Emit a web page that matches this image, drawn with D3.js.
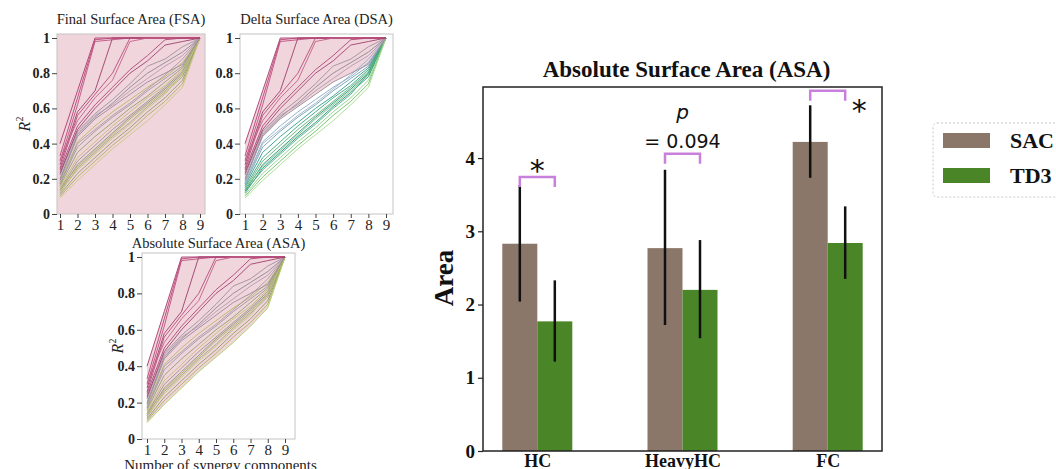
<!DOCTYPE html>
<html>
<head>
<meta charset="utf-8">
<script src="https://cdn.jsdelivr.net/npm/d3@7"></script>
<style>
  body { margin: 0; background: #fff; }
  svg { display: block; font-family: "Liberation Serif", "Times New Roman", serif; }
</style>
</head>
<body>
<div id="chart"></div>
<script>
// ---- data: R^2 vs number of synergy components ----
const steps = [1, 2, 3, 4, 5, 6, 7, 8, 9];
const yTickValues = [0, 0.2, 0.4, 0.6, 0.8, 1];

// lines that saturate early (magenta)
const topLines = [
  [0.40, 0.70, 1.00, 1.00, 1.00, 1.00, 1.00, 1.00, 1.00],
  [0.33, 0.66, 0.99, 1.00, 1.00, 1.00, 1.00, 1.00, 1.00],
  [0.30, 0.62, 0.98, 0.99, 1.00, 1.00, 1.00, 1.00, 1.00],
  [0.28, 0.58, 0.70, 1.00, 1.00, 1.00, 1.00, 1.00, 1.00],
  [0.26, 0.56, 0.68, 0.80, 1.00, 1.00, 1.00, 1.00, 1.00],
  [0.31, 0.53, 0.66, 0.76, 0.98, 1.00, 1.00, 1.00, 1.00],
  [0.25, 0.50, 0.62, 0.72, 0.82, 0.90, 0.99, 1.00, 1.00],
  [0.23, 0.48, 0.60, 0.70, 0.80, 0.87, 0.96, 0.98, 1.00]
];
// gray / mauve lines
const midLines = [
  [0.22, 0.47, 0.57, 0.65, 0.74, 0.84, 0.88, 0.95, 1.00],
  [0.20, 0.45, 0.55, 0.63, 0.72, 0.80, 0.86, 0.92, 1.00],
  [0.24, 0.46, 0.56, 0.62, 0.70, 0.77, 0.84, 0.90, 1.00],
  [0.19, 0.44, 0.54, 0.61, 0.68, 0.75, 0.80, 0.85, 1.00]
];
// the lower bundle
const lowLines = [
  [0.18, 0.41, 0.50, 0.58, 0.65, 0.72, 0.78, 0.86, 1.00],
  [0.17, 0.38, 0.47, 0.55, 0.62, 0.70, 0.77, 0.84, 1.00],
  [0.16, 0.35, 0.44, 0.52, 0.60, 0.67, 0.75, 0.83, 1.00],
  [0.15, 0.32, 0.41, 0.50, 0.58, 0.66, 0.73, 0.82, 1.00],
  [0.14, 0.30, 0.39, 0.48, 0.56, 0.64, 0.72, 0.81, 1.00],
  [0.13, 0.28, 0.37, 0.46, 0.55, 0.63, 0.71, 0.80, 1.00],
  [0.14, 0.27, 0.36, 0.45, 0.54, 0.62, 0.70, 0.79, 1.00],
  [0.12, 0.26, 0.35, 0.44, 0.52, 0.61, 0.69, 0.78, 1.00],
  [0.13, 0.25, 0.34, 0.43, 0.51, 0.60, 0.68, 0.80, 1.00],
  [0.11, 0.23, 0.32, 0.41, 0.49, 0.58, 0.66, 0.76, 1.00],
  [0.10, 0.21, 0.30, 0.39, 0.47, 0.56, 0.64, 0.74, 1.00],
  [0.09, 0.19, 0.28, 0.37, 0.45, 0.53, 0.62, 0.72, 1.00],
  [0.17, 0.40, 0.48, 0.56, 0.63, 0.71, 0.79, 0.88, 1.00]
];

// ---- data: bar chart ----
const categories = ["HC", "HeavyHC", "FC"];
const algos = ["SAC", "TD3"];
const sacMean = [2.83, 2.77, 4.22];
const sacLow  = [2.04, 1.72, 3.73];
const sacHigh = [3.63, 3.84, 4.72];
const td3Mean = [1.77, 2.20, 2.84];
const td3Low  = [1.22, 1.54, 2.35];
const td3High = [2.33, 2.88, 3.34];
const barTicks = [0, 1, 2, 3, 4];
const sigLevel = [3.74, 4.06, 4.92];
const sigText = ["*", "= 0.094", "*"];

// colours
const topColors = ["#a83a68", "#b8447a", "#c0507f", "#a03d6a", "#b54b7a", "#c46088", "#b04575", "#9e4370"];
const midColors = ["#a0909c", "#8c8890", "#b49ab0", "#9a8c96"];
const lowColorsFSA = ["#b9b760", "#9a9a9a", "#8fa070", "#c2bf6e", "#a09090", "#7f9a80", "#b5b05a", "#9fa58a", "#c6c47a", "#8c9c6a", "#b0ad5e", "#c8c880", "#a898a8"];
const lowColorsDSA = ["#8aa8c8", "#6fa0b0", "#2f9a88", "#3aa37a", "#58b070", "#23897a", "#7cc87a", "#1f8f80", "#4fae8a", "#8fd080", "#69bf6c", "#a6dc8a", "#9ab0c8"];
const lowColorsASA = ["#b9b760", "#9a9a9a", "#8fa070", "#c2bf6e", "#a09090", "#7f9a80", "#b5b05a", "#9fa58a", "#c6c47a", "#8c9c6a", "#b0ad5e", "#a8d060", "#a898a8"];
const algoColors = {SAC: "#8b766a", TD3: "#4a8628"};
const sigColor = "#c97fdc";
const pinkFill = "#f0d5dc";

const width = 1056, height = 469;
const svg = d3.select("#chart").append("svg")
  .attr("width", width).attr("height", height)
  .attr("viewBox", [0, 0, width, height]);

// ---- small line panels ----
const panels = [
  {title: "Final Surface Area (FSA)", box: [57, 34, 205, 214], xr: [60, 200], titleY: 24, fill: "full", low: lowColorsFSA, ylabel: true, labelX: 30},
  {title: "Delta Surface Area (DSA)", box: [240, 34, 393, 214], xr: [245, 386], titleY: 24, fill: "upper", low: lowColorsDSA, ylabel: false},
  {title: "Absolute Surface Area (ASA)", box: [142, 253, 295, 439], xr: [147, 285], titleY: 248, fill: "envelope", low: lowColorsASA, ylabel: true, labelX: 123, xlabel: "Number of synergy components"}
];

panels.forEach(p => {
  const [bx0, by0, bx1, by1] = p.box;
  const x = d3.scaleLinear().domain([1, 9]).range(p.xr);
  const y = d3.scaleLinear().domain([0, 1]).range([by1, by0 + 4]);
  const g = svg.append("g");
  const all = topLines.concat(midLines, lowLines);

  // shaded region
  if (p.fill === "full") {
    g.append("rect")
      .attr("x", bx0).attr("y", by0).attr("width", bx1 - bx0).attr("height", by1 - by0)
      .attr("fill", pinkFill);
  } else {
    const lowerSet = p.fill === "upper" ? topLines.concat(midLines) : all;
    const band = steps.map((s, i) => ({
      s: s,
      hi: d3.max(all, l => l[i]),
      lo: d3.min(lowerSet, l => l[i])
    }));
    g.append("path")
      .datum(band)
      .attr("d", d3.area().x(d => x(d.s)).y0(d => y(d.lo)).y1(d => y(d.hi)))
      .attr("fill", pinkFill);
  }

  const line = d3.line().x((d, i) => x(steps[i])).y(d => y(d));
  const groups = [
    {lines: lowLines, colors: p.low},
    {lines: midLines, colors: midColors},
    {lines: topLines, colors: topColors}
  ];
  groups.forEach(grp => {
    g.append("g").selectAll("path")
      .data(grp.lines)
      .join("path")
      .attr("d", line)
      .attr("fill", "none")
      .attr("stroke", (d, i) => grp.colors[i % grp.colors.length])
      .attr("stroke-width", 1)
      .attr("stroke-opacity", 0.9);
  });

  // frame
  g.append("rect")
    .attr("x", bx0).attr("y", by0).attr("width", bx1 - bx0).attr("height", by1 - by0)
    .attr("fill", "none").attr("stroke", "#c4c4c4").attr("stroke-width", 1);

  // y axis
  const ya = g.append("g")
    .attr("transform", `translate(${bx0},0)`)
    .call(d3.axisLeft(y).tickValues(yTickValues).tickFormat(d => String(d)).tickSize(5).tickPadding(2));
  ya.select(".domain").remove();
  ya.selectAll("line").attr("stroke", "#444");
  ya.selectAll("text").attr("font-family", "Liberation Serif").attr("font-size", 14)
    .attr("font-weight", "bold").attr("fill", "#222");

  // x axis
  const xa = g.append("g")
    .attr("transform", `translate(0,${by1})`)
    .call(d3.axisBottom(x).tickValues(steps).tickFormat(d3.format("d")).tickSize(4).tickPadding(1));
  xa.select(".domain").remove();
  xa.selectAll("line").attr("stroke", "#444");
  xa.selectAll("text").attr("font-family", "Liberation Serif").attr("font-size", 15)
    .attr("fill", "#222");

  // title
  g.append("text")
    .attr("x", (bx0 + bx1) / 2).attr("y", p.titleY)
    .attr("text-anchor", "middle").attr("font-size", 14.5).attr("fill", "#222")
    .text(p.title);

  if (p.ylabel) {
    const t = g.append("text")
      .attr("transform", `translate(${p.labelX},${(by0 + by1) / 2}) rotate(-90)`)
      .attr("text-anchor", "middle").attr("font-size", 16).attr("fill", "#222");
    t.append("tspan").attr("font-style", "italic").text("R");
    t.append("tspan").attr("font-size", 10).attr("dy", -7).text("2");
  }
  if (p.xlabel) {
    g.append("text")
      .attr("x", (bx0 + bx1) / 2 + 2).attr("y", height + 1)
      .attr("text-anchor", "middle").attr("font-size", 15).attr("fill", "#222")
      .text(p.xlabel);
  }
});

// ---- bar chart ----
const bm = {left: 483, right: 882, top: 87, bottom: 451};
const bx = d3.scalePoint().domain(categories).range([bm.left, bm.right]).padding(0.374);
const bw = 35;
const sub = d3.scaleBand().domain(algos).range([-bw, bw]).padding(0);
const by = d3.scaleLinear().domain([0, 4.97]).range([bm.bottom, bm.top]);

const barData = [];
categories.forEach((c, i) => {
  barData.push({cat: c, algo: "SAC", mean: sacMean[i], lo: sacLow[i], hi: sacHigh[i]});
  barData.push({cat: c, algo: "TD3", mean: td3Mean[i], lo: td3Low[i], hi: td3High[i]});
});

const bg = svg.append("g");
bg.selectAll("rect.bar")
  .data(barData)
  .join("rect")
  .attr("class", "bar")
  .attr("x", d => bx(d.cat) + sub(d.algo))
  .attr("y", d => by(d.mean))
  .attr("width", sub.bandwidth())
  .attr("height", d => by(0) - by(d.mean))
  .attr("fill", d => algoColors[d.algo]);

bg.selectAll("line.err")
  .data(barData)
  .join("line")
  .attr("class", "err")
  .attr("x1", d => bx(d.cat) + sub(d.algo) + sub.bandwidth() / 2)
  .attr("x2", d => bx(d.cat) + sub(d.algo) + sub.bandwidth() / 2)
  .attr("y1", d => by(d.lo))
  .attr("y2", d => by(d.hi))
  .attr("stroke", "#111")
  .attr("stroke-width", 2.5);

// frame
bg.append("rect")
  .attr("x", bm.left).attr("y", bm.top)
  .attr("width", bm.right - bm.left).attr("height", bm.bottom - bm.top)
  .attr("fill", "none").attr("stroke", "#222").attr("stroke-width", 1.5);

const bya = bg.append("g")
  .attr("transform", `translate(${bm.left},0)`)
  .call(d3.axisLeft(by).tickValues(barTicks).tickFormat(d3.format("d")).tickSize(5).tickPadding(3));
bya.select(".domain").remove();
bya.selectAll("line").attr("stroke", "#222").attr("stroke-width", 1.2);
bya.selectAll("text").attr("font-family", "Liberation Serif").attr("font-size", 19)
  .attr("font-weight", "bold").attr("fill", "#111");

const bxa = bg.append("g")
  .attr("transform", `translate(0,${bm.bottom})`)
  .call(d3.axisBottom(bx).tickSize(0).tickPadding(3));
bxa.select(".domain").remove();
bxa.selectAll("text").attr("font-family", "Liberation Serif").attr("font-size", 18)
  .attr("font-weight", "bold").attr("fill", "#111");

bg.append("text")
  .attr("x", (bm.left + bm.right) / 2 + 4).attr("y", 77)
  .attr("text-anchor", "middle").attr("font-size", 23).attr("font-weight", "bold").attr("fill", "#111")
  .text("Absolute Surface Area (ASA)");

bg.append("text")
  .attr("transform", `translate(453,${(bm.top + bm.bottom) / 2 + 9}) rotate(-90)`)
  .attr("text-anchor", "middle").attr("font-size", 27).attr("font-weight", "bold").attr("fill", "#111")
  .text("Area");

// significance brackets
categories.forEach((c, i) => {
  const xl = bx(c) + sub("SAC") + sub.bandwidth() / 2;
  const xr = bx(c) + sub("TD3") + sub.bandwidth() / 2;
  const yb = by(sigLevel[i]);
  bg.append("path")
    .attr("d", `M${xl},${yb + 10}V${yb}H${xr}V${yb + 10}`)
    .attr("fill", "none").attr("stroke", sigColor).attr("stroke-width", 2.5);
  if (sigText[i] === "*") {
    const right = i === categories.length - 1;
    bg.append("text")
      .attr("x", right ? xr + 14 : (xl + xr) / 2)
      .attr("y", right ? yb + 30 : yb + 4)
      .attr("text-anchor", "middle")
      .attr("font-family", "DejaVu Sans").attr("font-size", 30).attr("fill", "#111")
      .text("*");
  } else {
    bg.append("text")
      .attr("x", (xl + xr) / 2).attr("y", yb - 35)
      .attr("text-anchor", "middle")
      .attr("font-family", "DejaVu Sans").attr("font-size", 20).attr("font-style", "italic").attr("fill", "#111")
      .text("p");
    bg.append("text")
      .attr("x", (xl + xr) / 2).attr("y", yb - 6)
      .attr("text-anchor", "middle")
      .attr("font-family", "DejaVu Sans").attr("font-size", 19).attr("fill", "#111")
      .text(sigText[i]);
  }
});

// legend
const lg = svg.append("g").attr("transform", "translate(933,123)");
lg.append("rect")
  .attr("width", 140).attr("height", 74).attr("rx", 4)
  .attr("fill", "#fff").attr("stroke", "#c8c8c8").attr("stroke-dasharray", "2,2");
algos.forEach((a, i) => {
  lg.append("rect")
    .attr("x", 10).attr("y", 10 + i * 35).attr("width", 47).attr("height", 15)
    .attr("fill", algoColors[a]);
  lg.append("text")
    .attr("x", 77).attr("y", 25 + i * 35)
    .attr("font-size", 22).attr("font-weight", "bold").attr("fill", "#111")
    .text(a);
});
</script>
</body>
</html>
